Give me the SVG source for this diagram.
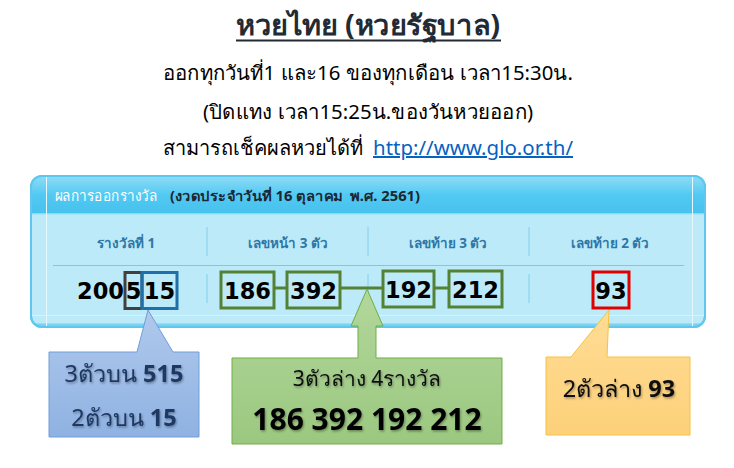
<svg xmlns="http://www.w3.org/2000/svg" width="734" height="468" viewBox="0 0 734 468">
<defs>
<linearGradient id="hdr" x1="0" y1="0" x2="0" y2="1">
<stop offset="0" stop-color="#8fdcf7"/>
<stop offset="0.5" stop-color="#52c9f2"/>
<stop offset="1" stop-color="#45c2ee"/>
</linearGradient>
<linearGradient id="gBlue" x1="0" y1="0" x2="0" y2="1">
<stop offset="0" stop-color="#b0c9ec"/>
<stop offset="1" stop-color="#8fb2e2"/>
</linearGradient>
<linearGradient id="gGreen" x1="0" y1="0" x2="0" y2="1">
<stop offset="0" stop-color="#b2d79b"/>
<stop offset="1" stop-color="#9bc880"/>
</linearGradient>
<linearGradient id="gYellow" x1="0" y1="0" x2="0" y2="1">
<stop offset="0" stop-color="#ffdc95"/>
<stop offset="1" stop-color="#fdd17a"/>
</linearGradient>
<clipPath id="panelClip"><rect x="31" y="176" width="674" height="151" rx="11"/></clipPath>
<filter id="shadow" x="-10%" y="-20%" width="120%" height="140%">
<feDropShadow dx="1" dy="1.5" stdDeviation="1" flood-color="#000" flood-opacity="0.35"/>
</filter>
</defs>
<style>
text{font-family:"Noto Sans","Liberation Sans","DejaVu Sans",sans-serif}
.ttl{font-size:28px;font-weight:bold;fill:#222a35}
.sub{font-size:20px;fill:#000}
.colh{font-size:13.5px;font-weight:bold;fill:#2f77a6}
.num{font-family:"DejaVu Sans",sans-serif;font-size:22.5px;font-weight:bold;fill:#000}
.sep{stroke:#8cd2ee;stroke-width:1.2}
.box{fill:none;stroke-width:3}
.gbox{stroke:#548235}
.conn{stroke:#548235;stroke-width:3;fill:none}
</style>

<g id="title">
<text class="ttl" x="236" y="35" textLength="264" lengthAdjust="spacingAndGlyphs">หวยไทย (หวยรัฐบาล)</text>
<line x1="236" y1="40.5" x2="501" y2="40.5" stroke="#222a35" stroke-width="2"/>
<text class="sub" x="163" y="80" textLength="410" lengthAdjust="spacingAndGlyphs">ออกทุกวันที่1 และ16 ของทุกเดือน เวลา15:30น.</text>
<text class="sub" x="203" y="119" textLength="330" lengthAdjust="spacingAndGlyphs">(ปิดแทง เวลา15:25น.ของวันหวยออก)</text>
<text class="sub" y="155"><tspan x="163" textLength="200" lengthAdjust="spacingAndGlyphs">สามารถเช็คผลหวยได้ที่</tspan><tspan x="373" fill="#0563c1" text-decoration="underline" textLength="200" lengthAdjust="spacingAndGlyphs">http://www.glo.or.th/</tspan></text>
</g>

<g id="panel">
<rect x="31" y="176" width="674" height="151" rx="11" fill="#bdeaf9" stroke="#5cc8ee" stroke-width="2"/>
<g clip-path="url(#panelClip)">
<rect x="31" y="176" width="674" height="38" fill="url(#hdr)"/>
<line x1="31" y1="214" x2="705" y2="214" stroke="#a5e2f8" stroke-width="1.5"/>
<line x1="31" y1="325" x2="705" y2="325" stroke="#7dd0f0" stroke-width="3"/>
<line x1="46.5" y1="176" x2="46.5" y2="327" stroke="#e6f7fd" stroke-width="1"/>
<line x1="692.5" y1="176" x2="692.5" y2="327" stroke="#e6f7fd" stroke-width="1"/>
<line x1="31" y1="315.5" x2="705" y2="315.5" stroke="#d6f2fb" stroke-width="1"/>
</g>
<rect x="31" y="176" width="674" height="151" rx="11" fill="none" stroke="#5cc8ee" stroke-width="2"/>
<text x="55" y="201" font-size="14.5" fill="#ffffff" textLength="102" lengthAdjust="spacingAndGlyphs">ผลการออกรางวัล</text>
<text x="170" y="201" font-size="14" font-weight="bold" fill="#1b2733" xml:space="preserve" textLength="250" lengthAdjust="spacingAndGlyphs">(งวดประจำวันที่ 16 ตุลาคม  พ.ศ. 2561)</text>
<text class="colh" x="126" y="248" text-anchor="middle">รางวัลที่ 1</text>
<text class="colh" x="288" y="248" text-anchor="middle">เลขหน้า 3 ตัว</text>
<text class="colh" x="448" y="248" text-anchor="middle">เลขท้าย 3 ตัว</text>
<text class="colh" x="610" y="248" text-anchor="middle">เลขท้าย 2 ตัว</text>
<line class="sep" x1="207" y1="227" x2="207" y2="256"/>
<line class="sep" x1="368" y1="227" x2="368" y2="256"/>
<line class="sep" x1="529" y1="227" x2="529" y2="256"/>
<line class="sep" x1="207" y1="274" x2="207" y2="303"/>
<line class="sep" x1="368" y1="274" x2="368" y2="303"/>
<line class="sep" x1="529" y1="274" x2="529" y2="303"/>
<line x1="53" y1="265.5" x2="684" y2="265.5" stroke="#7fc7e6" stroke-width="1.2"/>
</g>

<g id="first-prize">
<text class="num" y="299"><tspan x="124" text-anchor="end">200</tspan><tspan x="133.5" text-anchor="middle">5</tspan><tspan x="159.5" text-anchor="middle">15</tspan></text>
<rect class="box" x="125" y="272.5" width="17" height="36" stroke="#404040"/>
<rect class="box" x="142" y="272.5" width="35" height="36" stroke="#1f6fa8"/>
</g>

<g id="connectors">
<line class="conn" x1="274" y1="288" x2="287" y2="288"/>
<line class="conn" x1="340" y1="288" x2="383" y2="288"/>
<line class="conn" x1="434" y1="288" x2="449" y2="288"/>
</g>

<g id="front3-186">
<rect class="box gbox" x="221" y="272" width="53" height="36"/>
<text class="num" x="247.5" y="299" text-anchor="middle">186</text>
</g>
<g id="front3-392">
<rect class="box gbox" x="287" y="272" width="53" height="36"/>
<text class="num" x="313.5" y="299" text-anchor="middle">392</text>
</g>
<g id="back3-192">
<rect class="box gbox" x="383" y="271" width="51" height="36"/>
<text class="num" x="408.5" y="298" text-anchor="middle">192</text>
</g>
<g id="back3-212">
<rect class="box gbox" x="449" y="271" width="53" height="36"/>
<text class="num" x="475.5" y="298" text-anchor="middle">212</text>
</g>
<g id="back2-93">
<rect class="box" x="593" y="272" width="36" height="36" stroke="#e00000"/>
<text class="num" x="611" y="299" text-anchor="middle">93</text>
</g>

<g id="callout-upper">
<path d="M49,352 H137 L148,310 L173,352 H199 V437 H49 Z" fill="url(#gBlue)" stroke="#6f9fd8" stroke-width="1"/>
<g filter="url(#shadow)" fill="#1f3864">
<text x="124" y="382" text-anchor="middle" font-size="23.5">3ตัวบน <tspan font-weight="bold">515</tspan></text>
<text x="124" y="426" text-anchor="middle" font-size="23.5">2ตัวบน <tspan font-weight="bold">15</tspan></text>
</g>
</g>

<g id="callout-lower3">
<path d="M367,289 L383,326 H376 V358 H502 V444 H232 V358 H358 V326 H351 Z" fill="url(#gGreen)" stroke="#70ad47" stroke-width="1"/>
<g filter="url(#shadow)">
<text x="367" y="386" text-anchor="middle" font-size="21" fill="#111">3ตัวล่าง 4รางวัล</text>
<text x="367" y="430" text-anchor="middle" font-size="30" font-weight="bold" fill="#000">186 392 192 212</text>
</g>
</g>

<g id="callout-lower2">
<path d="M546,357 H571 L609,310 L607,357 H690 V435 H546 Z" fill="url(#gYellow)" stroke="#f4c242" stroke-width="1"/>
<g filter="url(#shadow)">
<text x="619" y="397" text-anchor="middle" font-size="23.5" fill="#111">2ตัวล่าง <tspan font-weight="bold">93</tspan></text>
</g>
</g>
</svg>
